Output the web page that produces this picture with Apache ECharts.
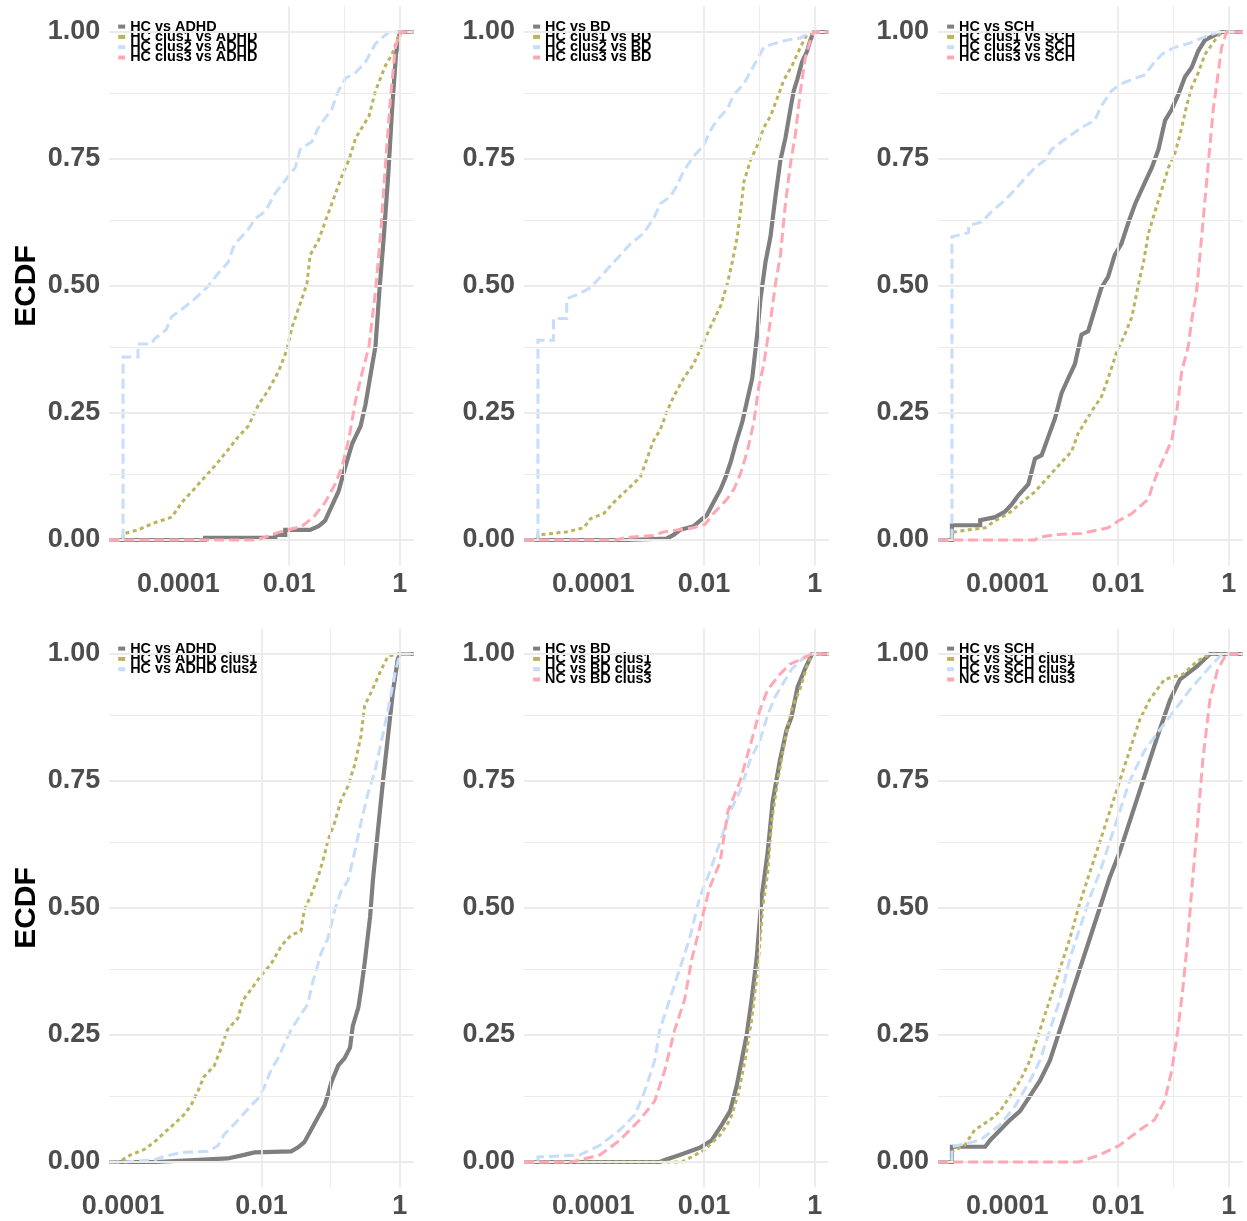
<!DOCTYPE html>
<html><head><meta charset="utf-8">
<script src="https://cdn.jsdelivr.net/npm/echarts@6/dist/echarts.min.js"></script>
<style>html,body{margin:0;padding:0;background:#fff}#c{width:1247px;height:1221px}</style>
</head><body><div id="c"></div>
<script>
// ---- DATA: ECDF curves, points as [log10(p-value), cumulative fraction] ----
const adhdTop_hc = [[-5,0],[-3.52,0],[-3.52,0.004],[-2.25,0.004],[-2.25,0.01],[-2.07,0.01],[-2.07,0.02],[-1.62,0.02],[-1.47,0.027],[-1.35,0.038],[-1.26,0.06],[-1.11,0.095],[-0.98,0.146],[-0.86,0.19],[-0.71,0.224],[-0.62,0.267],[-0.53,0.325],[-0.44,0.382],[-0.37,0.49],[-0.29,0.597],[-0.21,0.719],[-0.14,0.848],[-0.07,0.956],[0,1]];
const adhdTop_c1 = [[-5,0],[-5,0.012],[-4.73,0.02],[-4.43,0.034],[-4.12,0.045],[-3.94,0.074],[-3.76,0.095],[-3.58,0.117],[-3.34,0.146],[-3.10,0.178],[-2.92,0.203],[-2.74,0.224],[-2.55,0.267],[-2.37,0.296],[-2.19,0.332],[-2.04,0.375],[-1.95,0.418],[-1.77,0.475],[-1.68,0.504],[-1.62,0.561],[-1.47,0.59],[-1.35,0.626],[-1.23,0.662],[-1.04,0.719],[-0.92,0.748],[-0.80,0.791],[-0.56,0.834],[-0.44,0.884],[-0.26,0.934],[-0.14,0.956],[0,1]];
const adhdTop_c2 = [[-5,0],[-5,0.36],[-4.73,0.36],[-4.73,0.386],[-4.49,0.386],[-4.43,0.396],[-4.22,0.414],[-4.12,0.44],[-3.94,0.454],[-3.70,0.475],[-3.46,0.5],[-3.28,0.525],[-3.10,0.547],[-3.01,0.576],[-2.92,0.59],[-2.74,0.611],[-2.61,0.633],[-2.43,0.647],[-2.25,0.683],[-2.04,0.712],[-1.89,0.733],[-1.80,0.769],[-1.59,0.784],[-1.47,0.812],[-1.23,0.848],[-1.11,0.884],[-0.98,0.909],[-0.80,0.92],[-0.62,0.941],[-0.44,0.977],[-0.20,1]];
const adhdTop_c3 = [[-5,0],[-2.61,0],[-2.45,0.005],[-2.19,0.015],[-1.77,0.027],[-1.56,0.045],[-1.35,0.074],[-1.17,0.11],[-1.04,0.146],[-0.92,0.2],[-0.80,0.275],[-0.68,0.33],[-0.56,0.38],[-0.44,0.49],[-0.35,0.6],[-0.26,0.74],[-0.17,0.87],[-0.08,0.97],[0,1]];

const bdTop_hc = [[-5,0],[-3.39,0],[-3.39,0.003],[-2.67,0.003],[-2.55,0.01],[-2.43,0.02],[-2.19,0.027],[-2.07,0.038],[-1.95,0.049],[-1.83,0.074],[-1.70,0.1],[-1.61,0.124],[-1.52,0.153],[-1.43,0.189],[-1.31,0.232],[-1.22,0.275],[-1.13,0.318],[-1.04,0.404],[-0.98,0.475],[-0.89,0.547],[-0.80,0.597],[-0.71,0.676],[-0.62,0.748],[-0.53,0.791],[-0.44,0.848],[-0.38,0.884],[-0.32,0.905],[-0.23,0.941],[-0.14,0.962],[-0.08,0.984],[-0.02,1]];
const bdTop_c1 = [[-5,0],[-5,0.01],[-4.72,0.013],[-4.48,0.016],[-4.17,0.024],[-4.05,0.042],[-3.81,0.052],[-3.63,0.074],[-3.39,0.099],[-3.15,0.124],[-3.03,0.16],[-2.91,0.196],[-2.79,0.217],[-2.67,0.253],[-2.55,0.282],[-2.37,0.318],[-2.19,0.346],[-2.04,0.382],[-1.89,0.418],[-1.70,0.461],[-1.58,0.504],[-1.49,0.547],[-1.40,0.597],[-1.34,0.647],[-1.28,0.705],[-1.16,0.748],[-1.04,0.776],[-0.92,0.812],[-0.80,0.834],[-0.68,0.869],[-0.56,0.905],[-0.41,0.934],[-0.26,0.97],[-0.14,0.995],[-0.02,1]];
const bdTop_c2 = [[-5,0],[-5,0.393],[-4.72,0.393],[-4.72,0.436],[-4.48,0.436],[-4.48,0.475],[-4.23,0.486],[-4.05,0.497],[-3.87,0.518],[-3.69,0.54],[-3.51,0.561],[-3.33,0.583],[-3.09,0.604],[-2.91,0.633],[-2.79,0.662],[-2.61,0.676],[-2.49,0.697],[-2.37,0.726],[-2.19,0.755],[-2.01,0.776],[-1.89,0.805],[-1.77,0.826],[-1.58,0.848],[-1.46,0.877],[-1.28,0.898],[-1.10,0.934],[-0.92,0.97],[-0.74,0.977],[-0.50,0.984],[-0.26,0.988],[-0.08,1]];
const bdTop_c3 = [[-5,0],[-3.6,0],[-3.4,0.005],[-2.91,0.009],[-2.73,0.016],[-2.19,0.024],[-1.98,0.031],[-1.83,0.052],[-1.58,0.081],[-1.46,0.1],[-1.34,0.131],[-1.22,0.174],[-1.10,0.232],[-1.01,0.303],[-0.92,0.346],[-0.86,0.389],[-0.80,0.432],[-0.71,0.504],[-0.62,0.561],[-0.53,0.662],[-0.44,0.74],[-0.35,0.798],[-0.26,0.884],[-0.17,0.949],[-0.08,0.984],[-0.02,1]];

const schTop_hc = [[-5,0],[-5,0.029],[-4.49,0.029],[-4.49,0.039],[-4.22,0.045],[-4.04,0.056],[-3.92,0.07],[-3.80,0.088],[-3.62,0.11],[-3.50,0.16],[-3.38,0.167],[-3.26,0.203],[-3.14,0.239],[-3.02,0.289],[-2.90,0.318],[-2.78,0.346],[-2.66,0.404],[-2.54,0.411],[-2.42,0.454],[-2.30,0.497],[-2.18,0.518],[-2.06,0.561],[-1.94,0.583],[-1.81,0.626],[-1.69,0.662],[-1.51,0.705],[-1.39,0.733],[-1.27,0.769],[-1.15,0.826],[-1.03,0.848],[-0.91,0.877],[-0.79,0.912],[-0.67,0.93],[-0.55,0.963],[-0.43,0.984],[-0.31,0.991],[-0.13,1]];
const schTop_c1 = [[-5,0],[-5,0.015],[-4.70,0.02],[-4.40,0.024],[-4.22,0.038],[-3.98,0.052],[-3.74,0.074],[-3.50,0.095],[-3.26,0.124],[-3.02,0.153],[-2.84,0.174],[-2.72,0.21],[-2.48,0.253],[-2.30,0.282],[-2.18,0.318],[-2.03,0.368],[-1.88,0.404],[-1.75,0.439],[-1.63,0.504],[-1.54,0.547],[-1.45,0.604],[-1.33,0.647],[-1.21,0.69],[-1.09,0.733],[-0.97,0.762],[-0.88,0.798],[-0.76,0.855],[-0.67,0.891],[-0.55,0.92],[-0.43,0.956],[-0.25,0.984],[-0.13,1]];
const schTop_c2 = [[-5,0],[-5,0.597],[-4.70,0.605],[-4.70,0.619],[-4.46,0.626],[-4.28,0.647],[-4.04,0.669],[-3.86,0.69],[-3.68,0.712],[-3.50,0.733],[-3.32,0.748],[-3.20,0.769],[-3.02,0.784],[-2.84,0.798],[-2.66,0.812],[-2.42,0.826],[-2.30,0.855],[-2.12,0.884],[-1.94,0.898],[-1.69,0.909],[-1.51,0.916],[-1.39,0.934],[-1.21,0.956],[-0.97,0.97],[-0.73,0.977],[-0.49,0.988],[-0.19,1]];
const schTop_c3 = [[-5,0],[-3.50,0],[-3.45,0.005],[-3.08,0.011],[-2.66,0.013],[-2.36,0.02],[-2.18,0.024],[-1.99,0.038],[-1.75,0.052],[-1.45,0.081],[-1.39,0.103],[-1.27,0.138],[-1.15,0.167],[-1.03,0.196],[-0.94,0.253],[-0.85,0.332],[-0.73,0.382],[-0.67,0.432],[-0.58,0.49],[-0.52,0.561],[-0.46,0.633],[-0.40,0.705],[-0.34,0.776],[-0.28,0.848],[-0.19,0.92],[-0.13,0.97],[-0.04,1]];

const adhdBot_hc = [[-4,0],[-3.53,0],[-3.53,0.003],[-2.49,0.007],[-2.25,0.014],[-2.10,0.019],[-1.57,0.021],[-1.47,0.029],[-1.38,0.039],[-1.28,0.064],[-1.18,0.089],[-1.09,0.111],[-1.04,0.132],[-0.99,0.157],[-0.89,0.19],[-0.80,0.204],[-0.72,0.225],[-0.68,0.268],[-0.60,0.304],[-0.56,0.34],[-0.51,0.39],[-0.43,0.483],[-0.39,0.554],[-0.31,0.662],[-0.24,0.755],[-0.17,0.84],[-0.10,0.926],[-0.03,0.99],[0,1]];
const adhdBot_c1 = [[-4,0],[-4,0.005],[-3.89,0.014],[-3.69,0.025],[-3.55,0.039],[-3.41,0.057],[-3.26,0.075],[-3.12,0.093],[-3.02,0.111],[-2.92,0.139],[-2.83,0.168],[-2.68,0.19],[-2.58,0.225],[-2.49,0.261],[-2.34,0.283],[-2.27,0.318],[-2.15,0.34],[-2.00,0.368],[-1.86,0.39],[-1.71,0.426],[-1.57,0.447],[-1.43,0.454],[-1.38,0.497],[-1.28,0.526],[-1.18,0.562],[-1.09,0.604],[-1.04,0.633],[-0.94,0.669],[-0.85,0.712],[-0.75,0.74],[-0.65,0.783],[-0.56,0.84],[-0.51,0.898],[-0.41,0.926],[-0.27,0.969],[-0.17,0.996],[-0.03,1]];
const adhdBot_c2 = [[-4,0],[-3.55,0.004],[-3.45,0.009],[-3.16,0.019],[-2.78,0.021],[-2.63,0.032],[-2.54,0.054],[-2.34,0.082],[-2.20,0.104],[-2.05,0.125],[-1.96,0.147],[-1.86,0.182],[-1.76,0.204],[-1.67,0.232],[-1.57,0.261],[-1.43,0.29],[-1.33,0.311],[-1.26,0.354],[-1.21,0.376],[-1.14,0.411],[-1.04,0.44],[-0.94,0.497],[-0.85,0.533],[-0.75,0.554],[-0.65,0.612],[-0.56,0.669],[-0.46,0.726],[-0.36,0.769],[-0.27,0.826],[-0.17,0.891],[-0.07,0.962],[0,1]];

const bdBot_hc = [[-5,0],[-2.8,0],[-2.71,0.004],[-2.44,0.014],[-2.08,0.028],[-1.86,0.043],[-1.68,0.073],[-1.53,0.10],[-1.41,0.15],[-1.32,0.20],[-1.23,0.25],[-1.14,0.32],[-1.05,0.40],[-0.96,0.52],[-0.85,0.61],[-0.76,0.71],[-0.63,0.79],[-0.51,0.85],[-0.42,0.876],[-0.31,0.935],[-0.18,0.97],[-0.05,1]];
const bdBot_c1 = [[-5,0],[-2.4,0],[-2.26,0.008],[-1.99,0.024],[-1.71,0.053],[-1.53,0.083],[-1.39,0.13],[-1.26,0.20],[-1.14,0.28],[-1.03,0.38],[-0.94,0.50],[-0.85,0.57],[-0.78,0.67],[-0.67,0.75],[-0.54,0.83],[-0.42,0.89],[-0.27,0.93],[-0.13,0.98],[-0.04,1]];
const bdBot_c2 = [[-5,0],[-5,0.01],[-4.24,0.014],[-3.88,0.033],[-3.52,0.063],[-3.25,0.093],[-3.07,0.14],[-2.89,0.20],[-2.80,0.26],[-2.62,0.32],[-2.44,0.38],[-2.26,0.44],[-2.08,0.52],[-1.90,0.57],[-1.71,0.63],[-1.53,0.69],[-1.35,0.73],[-1.17,0.79],[-0.99,0.83],[-0.85,0.88],[-0.72,0.915],[-0.42,0.97],[-0.13,1]];
const bdBot_c3 = [[-5,0],[-4.4,0],[-4.24,0.004],[-3.88,0.014],[-3.52,0.043],[-3.16,0.083],[-2.89,0.12],[-2.71,0.18],[-2.53,0.26],[-2.35,0.32],[-2.22,0.40],[-2.08,0.46],[-1.90,0.54],[-1.71,0.59],[-1.57,0.69],[-1.35,0.75],[-1.14,0.83],[-0.99,0.89],[-0.85,0.93],[-0.63,0.96],[-0.45,0.98],[-0.24,0.99],[-0.05,1]];

const schBot_hc = [[-5,0],[-5,0.03],[-4.4,0.03],[-4.31,0.043],[-4.13,0.063],[-3.95,0.083],[-3.77,0.10],[-3.59,0.13],[-3.41,0.16],[-3.23,0.20],[-3.05,0.26],[-2.87,0.32],[-2.69,0.38],[-2.51,0.44],[-2.33,0.50],[-2.15,0.56],[-1.97,0.61],[-1.79,0.67],[-1.61,0.73],[-1.43,0.79],[-1.25,0.85],[-1.06,0.91],[-0.88,0.95],[-0.58,0.975],[-0.34,1]];
const schBot_c1 = [[-5,0],[-5,0.02],[-4.77,0.033],[-4.59,0.063],[-4.31,0.083],[-4.13,0.10],[-3.95,0.13],[-3.77,0.16],[-3.59,0.20],[-3.41,0.26],[-3.23,0.32],[-3.05,0.38],[-2.87,0.44],[-2.69,0.51],[-2.51,0.57],[-2.33,0.63],[-2.15,0.69],[-1.97,0.75],[-1.79,0.81],[-1.61,0.87],[-1.43,0.91],[-1.16,0.95],[-0.83,0.96],[-0.58,0.985],[-0.34,1]];
const schBot_c2 = [[-5,0],[-5,0.03],[-4.49,0.043],[-4.13,0.073],[-3.86,0.11],[-3.59,0.16],[-3.41,0.20],[-3.23,0.26],[-3.05,0.32],[-2.87,0.40],[-2.69,0.46],[-2.51,0.52],[-2.33,0.57],[-2.15,0.63],[-1.97,0.69],[-1.79,0.75],[-1.52,0.81],[-1.25,0.85],[-0.97,0.89],[-0.70,0.93],[-0.34,0.975],[-0.12,1]];
const schBot_c3 = [[-5,0],[-2.7,0],[-2.60,0.004],[-2.33,0.014],[-1.97,0.033],[-1.61,0.063],[-1.34,0.083],[-1.16,0.12],[-1.03,0.18],[-0.92,0.26],[-0.83,0.34],[-0.74,0.44],[-0.65,0.56],[-0.56,0.67],[-0.47,0.79],[-0.34,0.91],[-0.20,0.97],[-0.04,1]];

// legend / series names per panel
const namesADHDTop = ['HC vs ADHD','HC clus1 vs ADHD','HC clus2 vs ADHD','HC clus3 vs ADHD'];
const namesBDTop   = ['HC vs BD','HC clus1 vs BD','HC clus2 vs BD','HC clus3 vs BD'];
const namesSCHTop  = ['HC vs SCH','HC clus1 vs SCH','HC clus2 vs SCH','HC clus3 vs SCH'];
const namesADHDBot = ['HC vs ADHD','HC vs ADHD clus1','HC vs ADHD clus2'];
const namesBDBot   = ['HC vs BD','HC vs BD clus1','HC vs BD clus2','NC vs BD clus3'];
const namesSCHBot  = ['HC vs SCH','HC vs SCH clus1','HC vs SCH clus2','NC vs SCH clus3'];

// data range of the p-values (log10) per panel
const xDataRange = [[-5,0],[-5,0],[-5,0],[-4,0],[-5,0],[-5,0]];
// tick labels
const xTickLabels = [0.0001, 0.01, 1];
const yTickLabels = [0, 0.25, 0.5, 0.75, 1];
const yAxisTitle = 'ECDF';

// ---- LAYOUT / STYLE ----
const FONT = "'Liberation Sans', Arial, Helvetica, sans-serif";
const STYLES = [
  {color:'#7f7f7f', width:4.2, type:'solid'},
  {color:'#bab45e', width:3, type:[4,3.5]},
  {color:'#c6ddfb', width:3, type:[10,5]},
  {color:'#ffa8b4', width:3, type:[10,5]}
];
const rowTop = [6.6, 628.6];
const gridH = 558.8;
const colLeft = [109.2, 524.1, 938.1];
const gridW = 304.5;

const panels = [
  {names:namesADHDTop, data:[adhdTop_hc,adhdTop_c1,adhdTop_c2,adhdTop_c3]},
  {names:namesBDTop,   data:[bdTop_hc,bdTop_c1,bdTop_c2,bdTop_c3]},
  {names:namesSCHTop,  data:[schTop_hc,schTop_c1,schTop_c2,schTop_c3]},
  {names:namesADHDBot, data:[adhdBot_hc,adhdBot_c1,adhdBot_c2]},
  {names:namesBDBot,   data:[bdBot_hc,bdBot_c1,bdBot_c2,bdBot_c3]},
  {names:namesSCHBot,  data:[schBot_hc,schBot_c1,schBot_c2,schBot_c3]}
];

const grids=[], xAxes=[], yAxes=[], series=[], legends=[];
const GRIDC = '#ebebeb';
panels.forEach((p, i) => {
  const r = Math.floor(i/3), c = i%3;
  const [lo, hi] = xDataRange[i];
  const pad = (hi-lo)*0.05;
  const xmin = Math.pow(10, lo-pad), xmax = Math.pow(10, hi+pad);
  grids.push({left:colLeft[c], top:rowTop[r], width:gridW, height:gridH, containLabel:false});
  xAxes.push({
    type:'log', logBase:10, gridIndex:i, min:xmin, max:xmax,
    axisLine:{show:false}, axisTick:{show:false}, splitLine:{show:false}, minorSplitLine:{show:false},
    axisLabel:{customValues:xTickLabels, margin:6, color:'#4d4d4d', fontFamily:FONT, fontWeight:'bold', fontSize:27,
      formatter:v => String(parseFloat(Number(v).toPrecision(6)))}
  });
  yAxes.push({
    type:'value', gridIndex:i, min:-0.05, max:1.05,
    axisLine:{show:false}, axisTick:{show:false}, splitLine:{show:false},
    axisLabel:{customValues:yTickLabels, margin:9, color:'#4d4d4d', fontFamily:FONT, fontWeight:'bold', fontSize:27,
      padding:[4,0,0,0], formatter:v => Number(v).toFixed(2)},
    name: c===0 ? yAxisTitle : '', nameLocation:'middle', nameRotate:90, nameGap:67,
    nameTextStyle:{color:'#000', fontFamily:FONT, fontWeight:'bold', fontSize:30}
  });
  // background grid lines (major at labelled values, minor in between)
  const ml = [];
  for (let e = Math.ceil(lo-pad); e <= Math.floor(hi+pad); e++) {
    const major = (e % 2 === 0);
    ml.push({xAxis:Math.pow(10,e), lineStyle:{color:GRIDC, width: major?1.8:1, type:'solid'}});
  }
  for (let k = 0; k <= 8; k++) {
    const v = k*0.125;
    ml.push({yAxis:v, lineStyle:{color:GRIDC, width: (k%2===0)?1.8:1, type:'solid'}});
  }
  series.push({type:'line', name:'_grid'+i, xAxisIndex:i, yAxisIndex:i, data:[], silent:true, z:1,
    markLine:{silent:true, symbol:['none','none'], label:{show:false}, animation:false, emphasis:{disabled:true}, data:ml}});
  p.data.forEach((arr, k) => {
    const st = STYLES[k];
    const pts = [[xmin, 0]].concat(arr.map(d => [Math.pow(10, d[0]), d[1]]), [[xmax, 1]]);
    series.push({
      type:'line', name:p.names[k], xAxisIndex:i, yAxisIndex:i, data:pts,
      showSymbol:false, symbol:'none', z:2+k, animation:false, silent:true,
      color:st.color, itemStyle:{color:st.color},
      lineStyle:{color:st.color, width:st.width, type:st.type, cap:'butt', join:'miter'}
    });
  });
  legends.push({
    data:p.names, orient:'vertical', left:colLeft[c]+9, top:rowTop[r]+13, padding:0,
    itemWidth:7, itemHeight:4, itemGap:-3.7, icon:'rect', selectedMode:false,
    textStyle:{fontFamily:FONT, fontWeight:'bold', fontSize:14.4, color:'#000', padding:0}
  });
});

const chart = echarts.init(document.getElementById('c'), null, {renderer:'canvas'});
chart.setOption({
  backgroundColor:'#fff', animation:false,
  grid:grids, xAxis:xAxes, yAxis:yAxes, series:series, legend:legends
});
</script>
</body></html>
